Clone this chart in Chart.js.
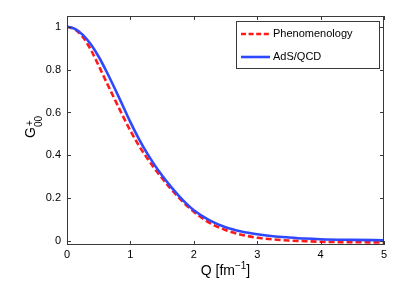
<!DOCTYPE html>
<html>
<head>
<meta charset="utf-8">
<script src="https://cdn.jsdelivr.net/npm/chart.js@4.4.1/dist/chart.umd.min.js"></script>
<style>
  html, body { margin: 0; padding: 0; background: #fff; }
  canvas { display: block; }
</style>
</head>
<body>
<canvas id="c" width="409" height="281"></canvas>
<script>
// ---- data ----
const qValues       = [0, 0.125, 0.25, 0.375, 0.5, 0.625, 0.75, 0.875, 1.0, 1.125, 1.25, 1.375, 1.5, 1.625, 1.75, 1.875, 2.0, 2.25, 2.5, 2.75, 3.0, 3.25, 3.5, 3.75, 4.0, 4.5, 5.0];
const phenomenology = [1.000, 0.988, 0.952, 0.893, 0.818, 0.740, 0.663, 0.587, 0.515, 0.450, 0.393, 0.341, 0.293, 0.248, 0.207, 0.170, 0.137, 0.085, 0.052, 0.030, 0.016, 0.008, 0.003, 0.000, -0.003, -0.005, -0.006];
const adsQcd        = [1.000, 0.990, 0.962, 0.918, 0.860, 0.790, 0.714, 0.635, 0.555, 0.482, 0.416, 0.358, 0.306, 0.259, 0.216, 0.177, 0.144, 0.097, 0.065, 0.045, 0.032, 0.023, 0.017, 0.012, 0.009, 0.006, 0.004];
const seriesLabels  = ['Phenomenology', 'AdS/QCD'];
const xTicks = [0, 1, 2, 3, 4, 5];
const yTicks = [0, 0.2, 0.4, 0.6, 0.8, 1];
const xTickLabels = ['0', '1', '2', '3', '4', '5'];
const yTickLabels = ['0', '0.2', '0.4', '0.6', '0.8', '1'];

const FONT = "'Liberation Sans', Arial, Helvetica, sans-serif";
Chart.defaults.font.family = FONT;
Chart.defaults.font.size = 11;
Chart.defaults.color = '#000';

const toPoints = (ys) => qValues.map((q, i) => ({ x: q, y: ys[i] }));

const RED = '#ff1a1a';
const BLUE = '#2e48ff';

const framePlugin = {
  id: 'frame',
  afterDatasetsDraw(chart) {
    const { ctx, chartArea: a, scales } = chart;
    ctx.save();
    ctx.strokeStyle = '#3a3a3a';
    ctx.lineWidth = 1;
    ctx.strokeRect(a.left + 0.5, a.top + 0.5, a.right - a.left - 1, a.bottom - a.top - 1);
    const tl = 4;
    ctx.beginPath();
    xTicks.forEach(v => {
      const x = Math.round(scales.x.getPixelForValue(v)) + 0.5;
      ctx.moveTo(x, a.bottom); ctx.lineTo(x, a.bottom - tl);
      ctx.moveTo(x, a.top); ctx.lineTo(x, a.top + tl);
    });
    yTicks.forEach(v => {
      const y = Math.round(scales.y.getPixelForValue(v)) + 0.5;
      ctx.moveTo(a.left, y); ctx.lineTo(a.left + tl, y);
      ctx.moveTo(a.right, y); ctx.lineTo(a.right - tl, y);
    });
    ctx.stroke();
    ctx.restore();
  },
  afterDraw(chart) {
    const { ctx, chartArea: a } = chart;
    ctx.save();
    // legend box
    const bx = 236, by = 21, bw = 143, bh = 47;
    ctx.fillStyle = '#fff';
    ctx.fillRect(bx, by, bw, bh);
    ctx.strokeStyle = '#3a3a3a';
    ctx.lineWidth = 1;
    ctx.strokeRect(bx + 0.5, by + 0.5, bw, bh);
    const ds = chart.data.datasets;
    const rows = [34, 57];
    [0, 1].forEach((i, k) => {
      const d = ds[i];
      ctx.beginPath();
      ctx.strokeStyle = d.borderColor;
      ctx.lineWidth = d.borderWidth;
      ctx.setLineDash(d.borderDash && d.borderDash.length ? [5, 2.6] : []);
      ctx.moveTo(241, rows[k]); ctx.lineTo(270, rows[k]);
      ctx.stroke();
      ctx.setLineDash([]);
      ctx.fillStyle = '#000';
      ctx.font = '11px ' + FONT;
      ctx.textBaseline = 'middle';
      ctx.textAlign = 'left';
      ctx.fillText(d.label, 273, rows[k]);
    });
    // x title
    ctx.fillStyle = '#000';
    ctx.textBaseline = 'alphabetic';
    ctx.textAlign = 'left';
    ctx.font = '14px ' + FONT;
    const t1 = 'Q [fm', t2 = '\u22121', t3 = ']';
    const w1 = ctx.measureText(t1).width;
    ctx.font = '10px ' + FONT;
    const w2 = ctx.measureText(t2).width;
    ctx.font = '14px ' + FONT;
    const w3 = ctx.measureText(t3).width;
    const cx = (a.left + a.right) / 2;
    let x0 = cx - (w1 + w2 + w3) / 2;
    const base = 275;
    ctx.fillText(t1, x0, base);
    ctx.font = '10px ' + FONT;
    ctx.fillText(t2, x0 + w1, base - 6);
    ctx.font = '14px ' + FONT;
    ctx.fillText(t3, x0 + w1 + w2, base);
    // y title: G^+_00
    ctx.translate(35, 138);
    ctx.rotate(-Math.PI / 2);
    ctx.font = '14px ' + FONT;
    ctx.fillText('G', 0, 0);
    const gw = ctx.measureText('G').width;
    ctx.font = '10px ' + FONT;
    ctx.fillText('+', gw + 1, -2.5);
    ctx.fillText('00', gw, 7);
    ctx.restore();
  }
};

new Chart(document.getElementById('c'), {
  type: 'line',
  data: {
    datasets: [
      {
        label: seriesLabels[0],
        data: toPoints(phenomenology),
        borderColor: RED,
        borderWidth: 2.6,
        borderDash: [6, 3],
        pointRadius: 0,
        cubicInterpolationMode: 'monotone',
        fill: false,
        order: 2
      },
      {
        label: seriesLabels[1],
        data: toPoints(adsQcd),
        borderColor: BLUE,
        borderWidth: 2.6,
        pointRadius: 0,
        cubicInterpolationMode: 'monotone',
        fill: false,
        order: 1
      }
    ]
  },
  options: {
    responsive: false,
    animation: false,
    devicePixelRatio: 1,
    layout: { padding: { left: 0, right: 25, top: 16, bottom: 0 } },
    plugins: { legend: { display: false }, tooltip: { enabled: false } },
    scales: {
      x: {
        type: 'linear',
        min: 0, max: 5,
        grid: { display: false, drawTicks: false },
        border: { display: false },
        afterBuildTicks: (s) => { s.ticks = xTicks.map(v => ({ value: v })); },
        afterFit: (s) => { s.height = 36; },
        ticks: {
          padding: 3,
          maxRotation: 0,
          autoSkip: false,
          callback: (v) => xTickLabels[xTicks.indexOf(v)]
        }
      },
      y: {
        type: 'linear',
        min: -0.018, max: 1.05,
        grid: { display: false, drawTicks: false },
        border: { display: false },
        afterBuildTicks: (s) => { s.ticks = yTicks.map(v => ({ value: v })); },
        afterFit: (s) => { s.width = 67; },
        ticks: {
          padding: 6,
          autoSkip: false,
          callback: (v) => yTickLabels[yTicks.indexOf(v)]
        }
      }
    }
  },
  plugins: [framePlugin]
});
</script>
</body>
</html>
